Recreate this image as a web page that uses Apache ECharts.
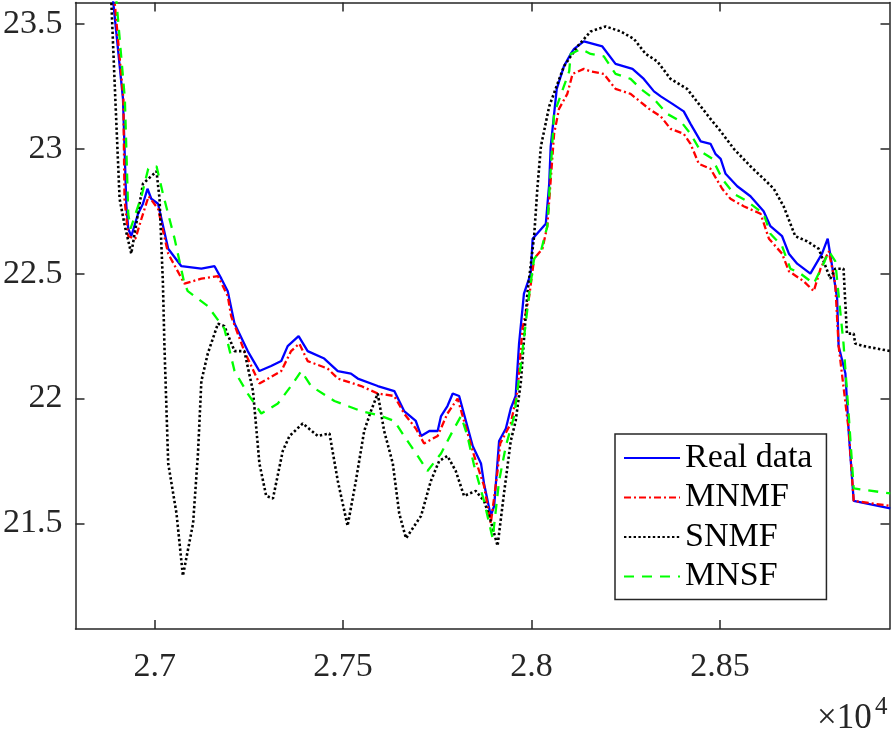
<!DOCTYPE html>
<html>
<head>
<meta charset="utf-8">
<script src="https://cdn.jsdelivr.net/npm/echarts@6/dist/echarts.min.js"></script>
<style>
html,body{margin:0;padding:0;background:#fff;}
#chart{width:894px;height:729px;}
</style>
</head>
<body>
<div id="chart"></div>
<script>
// ---- data ----
const seriesNames = ['Real data', 'MNMF', 'SNMF', 'MNSF'];

const realX = [26888, 26916, 26925, 26930, 26938, 26956, 26969, 26981, 26991, 27009, 27036, 27071, 27124, 27159, 27177, 27194, 27212, 27247, 27278, 27309, 27336, 27353, 27382, 27406, 27450, 27486, 27521, 27539, 27592, 27636, 27662, 27693, 27707, 27729, 27751, 27760, 27777, 27791, 27808, 27826, 27844, 27866, 27874, 27892, 27901, 27914, 27932, 27945, 27958, 27967, 27980, 27998, 28003, 28038, 28047, 28051, 28067, 28086, 28104, 28113, 28139, 28188, 28223, 28268, 28298, 28325, 28343, 28374, 28404, 28422, 28449, 28475, 28488, 28502, 28515, 28546, 28581, 28616, 28634, 28665, 28683, 28705, 28740, 28771, 28786, 28802, 28811, 28815, 28833, 28842, 28855, 28952];
const realY = [23.62, 23.20, 22.77, 22.68, 22.65, 22.74, 22.78, 22.84, 22.80, 22.78, 22.60, 22.53, 22.52, 22.53, 22.48, 22.43, 22.30, 22.19, 22.11, 22.13, 22.15, 22.21, 22.25, 22.19, 22.16, 22.11, 22.10, 22.08, 22.05, 22.03, 21.95, 21.91, 21.85, 21.87, 21.87, 21.93, 21.97, 22.02, 22.01, 21.91, 21.81, 21.74, 21.66, 21.53, 21.57, 21.83, 21.88, 21.96, 22.01, 22.22, 22.42, 22.50, 22.64, 22.70, 22.86, 23.01, 23.24, 23.33, 23.38, 23.40, 23.43, 23.41, 23.34, 23.32, 23.28, 23.23, 23.21, 23.18, 23.15, 23.10, 23.03, 23.02, 22.98, 22.96, 22.90, 22.85, 22.81, 22.75, 22.69, 22.65, 22.58, 22.54, 22.50, 22.58, 22.64, 22.49, 22.40, 22.21, 22.10, 21.86, 21.59, 21.56];

const mnmfX = [26892, 26917, 26920, 26930, 26949, 26965, 26984, 27009, 27036, 27079, 27124, 27168, 27194, 27203, 27238, 27278, 27336, 27362, 27384, 27406, 27459, 27486, 27548, 27592, 27636, 27662, 27693, 27715, 27751, 27777, 27804, 27821, 27848, 27874, 27892, 27910, 27917, 27945, 27963, 27976, 27994, 28007, 28029, 28042, 28060, 28073, 28095, 28109, 28139, 28157, 28192, 28223, 28263, 28312, 28343, 28369, 28404, 28422, 28444, 28475, 28506, 28528, 28563, 28608, 28630, 28665, 28683, 28722, 28749, 28767, 28789, 28806, 28815, 28842, 28855, 28952];
const mnmfY = [23.62, 23.20, 22.80, 22.65, 22.64, 22.72, 22.81, 22.76, 22.58, 22.46, 22.48, 22.49, 22.41, 22.33, 22.19, 22.06, 22.11, 22.19, 22.22, 22.15, 22.12, 22.08, 22.05, 22.02, 22.01, 21.94, 21.88, 21.82, 21.85, 21.94, 22.00, 21.91, 21.77, 21.65, 21.50, 21.71, 21.82, 21.90, 22.03, 22.28, 22.41, 22.56, 22.60, 22.69, 23.06, 23.16, 23.22, 23.30, 23.32, 23.31, 23.30, 23.24, 23.22, 23.16, 23.13, 23.08, 23.06, 23.02, 22.94, 22.92, 22.84, 22.80, 22.77, 22.74, 22.64, 22.58, 22.51, 22.47, 22.43, 22.52, 22.59, 22.46, 22.21, 21.87, 21.59, 21.57];

const snmfX = [26882, 26894, 26907, 26921, 26938, 26969, 27005, 27013, 27022, 27026, 27036, 27058, 27075, 27102, 27115, 27124, 27141, 27168, 27185, 27212, 27238, 27261, 27278, 27296, 27314, 27340, 27358, 27393, 27433, 27464, 27486, 27512, 27534, 27556, 27574, 27592, 27609, 27632, 27649, 27667, 27707, 27733, 27755, 27777, 27799, 27821, 27852, 27874, 27888, 27910, 27927, 27945, 27958, 27972, 27989, 28007, 28016, 28025, 28047, 28086, 28122, 28157, 28197, 28237, 28272, 28303, 28334, 28369, 28413, 28449, 28475, 28502, 28537, 28581, 28616, 28643, 28669, 28700, 28731, 28762, 28793, 28806, 28828, 28837, 28855, 28859, 28881, 28952];
const snmfY = [23.70, 23.26, 22.80, 22.69, 22.58, 22.86, 22.91, 22.80, 22.46, 22.21, 21.74, 21.54, 21.29, 21.50, 21.78, 22.07, 22.18, 22.30, 22.29, 22.19, 22.19, 22.03, 21.74, 21.61, 21.60, 21.79, 21.85, 21.90, 21.85, 21.86, 21.67, 21.49, 21.67, 21.87, 21.95, 22.02, 21.87, 21.74, 21.54, 21.44, 21.53, 21.67, 21.75, 21.77, 21.71, 21.61, 21.63, 21.59, 21.53, 21.41, 21.62, 21.83, 21.91, 22.07, 22.42, 22.65, 22.85, 23.01, 23.17, 23.33, 23.41, 23.47, 23.49, 23.47, 23.44, 23.38, 23.35, 23.28, 23.24, 23.17, 23.12, 23.07, 23.00, 22.93, 22.88, 22.84, 22.77, 22.65, 22.63, 22.60, 22.48, 22.52, 22.52, 22.26, 22.26, 22.22, 22.21, 22.19];

const mnsfX = [26897, 26921, 26930, 26936, 26965, 26983, 27005, 27022, 27053, 27079, 27088, 27141, 27185, 27212, 27247, 27283, 27327, 27362, 27389, 27415, 27477, 27548, 27601, 27636, 27662, 27698, 27724, 27760, 27791, 27813, 27830, 27848, 27874, 27897, 27914, 27932, 27954, 27972, 27994, 28007, 28025, 28042, 28060, 28100, 28104, 28131, 28157, 28192, 28223, 28263, 28290, 28325, 28360, 28396, 28422, 28449, 28480, 28506, 28537, 28572, 28616, 28634, 28665, 28687, 28714, 28749, 28775, 28789, 28806, 28828, 28842, 28855, 28952];
const mnsfY = [23.62, 23.20, 22.74, 22.68, 22.81, 22.92, 22.93, 22.82, 22.64, 22.46, 22.43, 22.37, 22.28, 22.11, 22.02, 21.94, 21.98, 22.05, 22.11, 22.05, 21.99, 21.95, 21.93, 21.91, 21.85, 21.77, 21.71, 21.78, 21.87, 21.93, 21.85, 21.73, 21.59, 21.44, 21.67, 21.81, 21.93, 22.14, 22.42, 22.56, 22.59, 22.69, 23.14, 23.31, 23.38, 23.40, 23.38, 23.37, 23.30, 23.28, 23.24, 23.20, 23.14, 23.11, 23.06, 22.99, 22.96, 22.88, 22.82, 22.79, 22.74, 22.66, 22.61, 22.52, 22.50, 22.46, 22.54, 22.59, 22.55, 22.22, 21.93, 21.64, 21.62];

const xTickValues = [27000, 27500, 28000, 28500];
const xTickLabels = ['2.7', '2.75', '2.8', '2.85'];
const yTickValues = [21.5, 22, 22.5, 23, 23.5];
const yTickLabels = ['21.5', '22', '22.5', '23', '23.5'];
const xRange = [26790, 28950];
const yRange = [21.077, 23.586];

// ---- chart ----
const FONT = 'Liberation Serif';
const AX = '#262626';
function pairs(xs, ys) { return xs.map((x, i) => [x, ys[i]]); }

const chart = echarts.init(document.getElementById('chart'), null, { renderer: 'canvas' });

const axisLineStyle = { color: AX, width: 1.5 };
const tickStyle = { color: AX, width: 1.5 };

const option = {
  animation: false,
  backgroundColor: '#fff',
  grid: { left: 74, right: 4.5, top: 2.5, bottom: 100, containLabel: false },
  xAxis: [
    {
      type: 'value', min: xRange[0], max: xRange[1], position: 'bottom',
      axisLine: { show: true, onZero: false, lineStyle: axisLineStyle },
      axisTick: { show: true, inside: true, length: 9, customValues: xTickValues, lineStyle: tickStyle },
      axisLabel: {
        show: true, customValues: xTickValues, margin: 21,
        fontFamily: FONT, fontSize: 34, color: '#262626', lineHeight: 34,
        formatter: v => { const i = xTickValues.indexOf(v); return i >= 0 ? xTickLabels[i] : ''; }
      },
      splitLine: { show: false }
    },
    {
      type: 'value', min: xRange[0], max: xRange[1], position: 'top',
      axisLine: { show: true, onZero: false, lineStyle: axisLineStyle },
      axisTick: { show: true, inside: true, length: 9, customValues: xTickValues, lineStyle: tickStyle },
      axisLabel: { show: false },
      splitLine: { show: false }
    }
  ],
  yAxis: [
    {
      type: 'value', min: yRange[0], max: yRange[1], position: 'left',
      axisLine: { show: true, onZero: false, lineStyle: axisLineStyle },
      axisTick: { show: true, inside: true, length: 9, customValues: yTickValues, lineStyle: tickStyle },
      axisLabel: {
        show: true, customValues: yTickValues, margin: 13,
        fontFamily: FONT, fontSize: 34, color: '#262626',
        formatter: v => { const i = yTickValues.indexOf(v); return i >= 0 ? yTickLabels[i] : ''; }
      },
      splitLine: { show: false }
    },
    {
      type: 'value', min: yRange[0], max: yRange[1], position: 'right',
      axisLine: { show: true, onZero: false, lineStyle: axisLineStyle },
      axisTick: { show: true, inside: true, length: 9, customValues: yTickValues, lineStyle: tickStyle },
      axisLabel: { show: false },
      splitLine: { show: false }
    }
  ],
  legend: {
    orient: 'vertical', left: 615, top: 434,
    padding: [6, 14, 5, 8], itemGap: 3.5, itemWidth: 56, itemHeight: 14,
    backgroundColor: '#fff', borderColor: AX, borderWidth: 1.5, borderRadius: 0,
    itemStyle: { opacity: 0 },
    textStyle: { fontFamily: FONT, fontSize: 34, color: '#000', lineHeight: 36 },
    data: seriesNames
  },
  series: [
    {
      name: seriesNames[0], type: 'line', data: pairs(realX, realY),
      showSymbol: false, symbol: 'none', clip: true,
      lineStyle: { color: '#0000ff', width: 2.3, type: 'solid' },
      itemStyle: { color: '#0000ff' }
    },
    {
      name: seriesNames[1], type: 'line', data: pairs(mnmfX, mnmfY),
      showSymbol: false, symbol: 'none', clip: true,
      lineStyle: { color: '#ff0000', width: 2.3, type: [7, 3, 2, 3] },
      itemStyle: { color: '#ff0000' }
    },
    {
      name: seriesNames[2], type: 'line', data: pairs(snmfX, snmfY),
      showSymbol: false, symbol: 'none', clip: true,
      lineStyle: { color: '#000000', width: 2.6, type: [2.4, 2.4] },
      itemStyle: { color: '#000000' }
    },
    {
      name: seriesNames[3], type: 'line', data: pairs(mnsfX, mnsfY),
      showSymbol: false, symbol: 'none', clip: true,
      lineStyle: { color: '#00ff00', width: 2.3, type: [10, 8] },
      itemStyle: { color: '#00ff00' }
    }
  ],
  graphic: [
    { type: 'text', left: 817, top: 701, style: { text: '×10', fontSize: 35, fontFamily: FONT, fill: '#262626' } },
    { type: 'text', left: 875, top: 695, style: { text: '4', fontSize: 25, fontFamily: FONT, fill: '#262626' } }
  ]
};
chart.setOption(option);
</script>
</body>
</html>
